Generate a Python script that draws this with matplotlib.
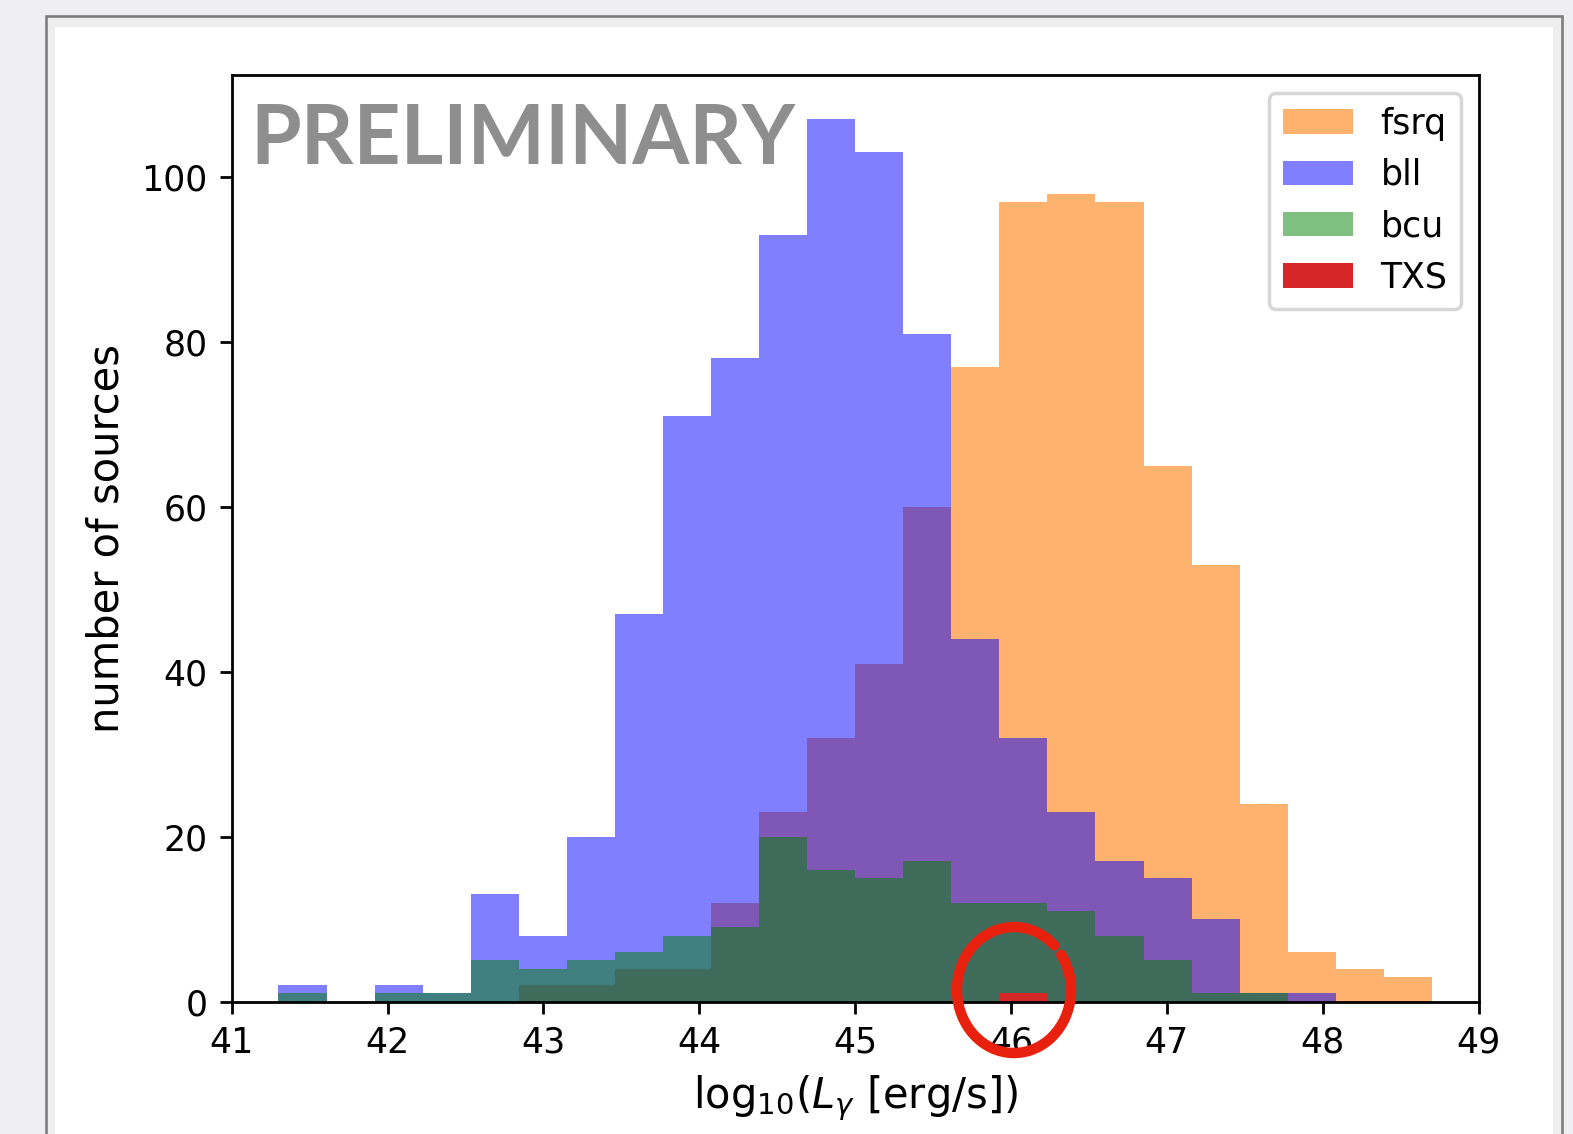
import matplotlib.pyplot as plt
from matplotlib.patches import Rectangle, Arc
import numpy as np

# log10 luminosity bins shared by all classes
edges = np.linspace(41.30, 48.70, 25)
centers = 0.5 * (edges[:-1] + edges[1:])

fsrq_counts = [0, 0, 0, 0, 0, 2, 2, 4, 4, 12, 23, 32, 41, 60, 77, 97, 98, 97, 65, 53, 24, 6, 4, 3]
bll_counts = [2, 0, 2, 1, 13, 8, 20, 47, 71, 78, 93, 107, 103, 81, 44, 32, 23, 17, 15, 10, 1, 1, 0, 0]
bcu_counts = [1, 0, 1, 1, 5, 4, 5, 6, 8, 9, 20, 16, 15, 17, 12, 12, 11, 8, 5, 1, 1, 0, 0, 0]
txs_counts = [0] * 15 + [1] + [0] * 8

W, H = 1573, 1134
DPI = 250
fig = plt.figure(figsize=(W / DPI, H / DPI), dpi=DPI, facecolor="#efeff1")


def px_rect(x0, y0, x1, y1, **kw):
    # rectangle given in pixel coordinates from the top-left corner
    r = Rectangle((x0 / W, 1 - y1 / H), (x1 - x0) / W, (y1 - y0) / H,
                  transform=fig.transFigure, **kw)
    fig.add_artist(r)


# slide panel behind the plot
px_rect(46, 16, 1562, 1150, facecolor="#eeeeef", edgecolor="#7d7d7d", linewidth=0.75, zorder=0)
px_rect(55, 27, 1553, 1150, facecolor="white", edgecolor="none", zorder=0)

ax = fig.add_axes([0.1473, 0.1168, 0.940 - 0.1473, 0.9336 - 0.1168])

ax.hist(centers, bins=edges, weights=fsrq_counts, histtype="stepfilled", color="C1", alpha=0.6, label="fsrq")
ax.hist(centers, bins=edges, weights=bll_counts, histtype="stepfilled", color="blue", alpha=0.5, label="bll")
ax.hist(centers, bins=edges, weights=bcu_counts, histtype="stepfilled", color="green", alpha=0.5, label="bcu")
ax.hist(centers, bins=edges, weights=txs_counts, histtype="stepfilled", color="C3", label="TXS")

ax.set_xlim(41, 49)
ax.set_ylim(0, 112.35)
ax.set_xticks(range(41, 50))
ax.set_yticks(range(0, 101, 20))
ax.set_xlabel(r"log$_{10}$($L_{\gamma}$ [erg/s])", fontsize=12)
ax.set_ylabel("number of sources", fontsize=12)
ax.legend(loc="upper right")

fig.text(250 / W, 1 - 164 / H, "PRELIMINARY", family="Lato", weight="bold",
         fontsize=23.6, color="#8e8e8e", va="baseline", ha="left")

# hand-drawn marker around the TXS bin
circle = Arc((1014 / W, 1 - 990 / H), 114 / W, 126 / H, theta1=57, theta2=406,
             transform=fig.transFigure, color="#e8200e", linewidth=3.0, capstyle="round")
fig.add_artist(circle)

plt.savefig("out.png", dpi=DPI, facecolor=fig.get_facecolor())
